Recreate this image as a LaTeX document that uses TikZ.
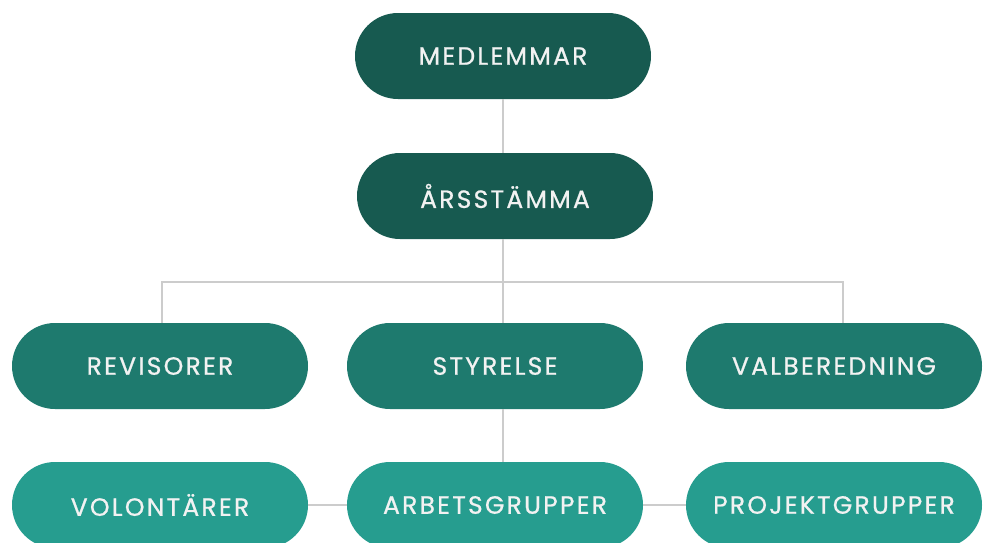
\documentclass[tikz,border=0pt]{standalone}
\usepackage{fontspec}
\setmainfont{Poppins}
\newfontfamily\pillfont{Poppins}[LetterSpace=9, FakeBold=0.8]
\usepackage{tikz}
\definecolor{pinegreen}{RGB}{23, 90, 80}
\definecolor{teal}{RGB}{30, 122, 110}
\definecolor{seagreen}{RGB}{38, 157, 143}
\definecolor{linegray}{RGB}{204, 204, 204}

\begin{document}
\begin{tikzpicture}[x=1pt, y=-1pt,
        pill/.style={rectangle, rounded corners=43pt, minimum width=296pt, minimum height=86pt,
                     text=white!95!black, font=\pillfont\fontsize{25}{29}\selectfont, inner sep=0pt},
        link/.style={draw=linegray, line width=1.4pt}]
            \clip (0, 0) rectangle (984, 542);
            \useasboundingbox (0, 0) rectangle (984, 542);
            % Top
            \node[pill, fill=pinegreen] (medlemmar)      at (503,  56) {MEDLEMMAR};
            \node[pill, fill=pinegreen] (arsstamma)      at (505, 196) {ÅRSSTÄMMA};
            % Middle row
            \node[pill, fill=teal]      (revisorer)      at (160, 366) {REVISORER};
            \node[pill, fill=teal]      (styrelse)       at (495, 366) {STYRELSE};
            \node[pill, fill=teal]      (valberedning)   at (834, 366) {VALBEREDNING};
            % Bottom row
            \node[pill, fill=seagreen]  (volontarer)     at (160, 505) {VOLONTÄRER};
            \node[pill, fill=seagreen]  (arbetsgrupper)  at (495, 505) {ARBETSGRUPPER};
            \node[pill, fill=seagreen]  (projektgrupper) at (834, 505) {PROJEKTGRUPPER};
            % Tree lines
            \coordinate (split)  at (503, 282);
            \coordinate (tipRev) at (162, 0);
            \coordinate (tipSty) at (503, 0);
            \coordinate (tipVal) at (843, 0);
            \draw[link] (medlemmar.south) -- (medlemmar.south |- arsstamma.north);
            \draw[link] (split |- arsstamma.south) -- (split);
            \draw[link] (tipRev |- revisorer.north) -- (tipRev |- split) -- (tipVal |- split) -- (tipVal |- valberedning.north);
            \draw[link] (split) -- (tipSty |- styrelse.north);
            \draw[link] (tipSty |- styrelse.south) -- (tipSty |- arbetsgrupper.north);
            \draw[link] (volontarer.east) -- (arbetsgrupper.west);
            \draw[link] (arbetsgrupper.east) -- (projektgrupper.west);
\end{tikzpicture}
\end{document}
